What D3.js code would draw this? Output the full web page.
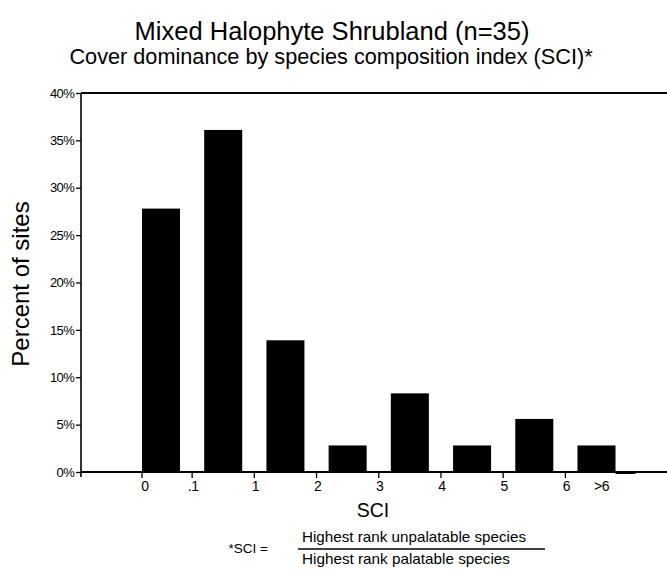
<!DOCTYPE html>
<html>
<head>
<meta charset="utf-8">
<script src="https://cdn.jsdelivr.net/npm/d3@7"></script>
<style>
  html, body { margin: 0; padding: 0; background: #fff; }
  svg { display: block; font-family: "Liberation Sans", Arial, Helvetica, sans-serif; }
</style>
</head>
<body>
<svg id="chart" width="667" height="570"></svg>
<script>
// ---- data ----
const bins = ["0", "0.1–1", "1–2", "2–3", "3–4", "4–5", "5–6", ">6"];
const percents = [27.8, 36.1, 13.9, 2.8, 8.3, 2.8, 5.6, 2.8];
const tickLabels = ["0", ".1", "1", "2", "3", "4", "5", "6", ">6"];
const yTicks = [0, 5, 10, 15, 20, 25, 30, 35, 40];
const titleText = "Mixed Halophyte Shrubland (n=35)";
const subtitleText = "Cover dominance by species composition index (SCI)*";
const yTitle = "Percent of sites";
const xTitle = "SCI";
const numerText = "Highest rank unpalatable species";
const denomText = "Highest rank palatable species";

// ---- layout ----
const svg = d3.select("#chart");
const axisX = 81, baseY = 472, topY = 93, rightX = 667;

const y = d3.scaleLinear().domain([0, 40]).range([baseY, topY]);
const x = d3.scaleBand().domain(bins).range([142, 615.5]).paddingInner(0.389).paddingOuter(0);
const gap = x.step() - x.bandwidth();

// titles
svg.append("text").attr("x", 332).attr("y", 40).attr("text-anchor", "middle")
  .attr("font-size", 25.5).text(titleText);
svg.append("text").attr("x", 331).attr("y", 64).attr("text-anchor", "middle")
  .attr("font-size", 21.7).text(subtitleText);

// bars
svg.append("g").selectAll("rect").data(percents).join("rect")
  .attr("x", (d, i) => x(bins[i]))
  .attr("y", d => y(d))
  .attr("width", x.bandwidth())
  .attr("height", d => baseY - y(d))
  .attr("fill", "#000");

// top frame line
svg.append("line").attr("x1", axisX).attr("x2", rightX).attr("y1", topY).attr("y2", topY)
  .attr("stroke", "#000").attr("stroke-width", 2);

// baseline
svg.append("line").attr("x1", axisX).attr("x2", rightX).attr("y1", baseY).attr("y2", baseY)
  .attr("stroke", "#000").attr("stroke-width", 2);
// small dash artifact after last bar
svg.append("line").attr("x1", x(bins[7]) + x.bandwidth()).attr("x2", x(bins[7]) + x.bandwidth() + 20)
  .attr("y1", baseY + 1).attr("y2", baseY + 1).attr("stroke", "#000").attr("stroke-width", 2);

// y axis
const yAxis = svg.append("g").attr("transform", `translate(${axisX},0)`)
  .call(d3.axisLeft(y).tickValues(yTicks).tickFormat(d => d + "%").tickSize(5).tickPadding(2));
yAxis.select(".domain").remove();
yAxis.selectAll(".tick line").attr("stroke-width", 1.3);
yAxis.selectAll(".tick text").attr("font-size", 13).attr("font-family", "'Liberation Sans', Arial, sans-serif")
  .attr("letter-spacing", -0.7);
svg.append("line").attr("x1", axisX).attr("x2", axisX).attr("y1", topY).attr("y2", baseY + 5)
  .attr("stroke", "#000").attr("stroke-width", 1.6);

// x ticks and labels
const tickPos = tickLabels.map((t, i) => {
  if (i === 0) return { t, px: x(bins[0]), tick: true };
  if (i < bins.length) return { t, px: x(bins[i]) - gap / 2, tick: true };
  return { t, px: x(bins[bins.length - 1]) + x.bandwidth() / 2 + 4, tick: false };
});
const xt = svg.append("g");
xt.selectAll("line").data(tickPos.filter(d => d.tick)).join("line")
  .attr("x1", d => d.px).attr("x2", d => d.px)
  .attr("y1", baseY).attr("y2", baseY + 6)
  .attr("stroke", "#000").attr("stroke-width", 1.3);
xt.selectAll("text").data(tickPos).join("text")
  .attr("x", (d, i) => d.px + (i === 0 ? 3 : 1))
  .attr("y", 491).attr("text-anchor", "middle")
  .attr("font-size", 14).attr("letter-spacing", -0.5).text(d => d.t);

// axis titles
svg.append("text").attr("transform", "translate(29,284) rotate(-90)")
  .attr("text-anchor", "middle").attr("font-size", 24).text(yTitle);
svg.append("text").attr("x", 373).attr("y", 517).attr("text-anchor", "middle")
  .attr("font-size", 19.5).text(xTitle);

// SCI footnote fraction
svg.append("text").attr("x", 268).attr("y", 553).attr("text-anchor", "end")
  .attr("font-size", 13.5).text("*SCI =");
svg.append("text").attr("x", 414).attr("y", 542).attr("text-anchor", "middle")
  .attr("font-size", 14.5).attr("textLength", 224).attr("lengthAdjust", "spacingAndGlyphs").text(numerText);
svg.append("line").attr("x1", 298).attr("x2", 545).attr("y1", 549).attr("y2", 549)
  .attr("stroke", "#000").attr("stroke-width", 1.5);
svg.append("text").attr("x", 406).attr("y", 564).attr("text-anchor", "middle")
  .attr("font-size", 14.5).attr("textLength", 208).attr("lengthAdjust", "spacingAndGlyphs").text(denomText);
</script>
</body>
</html>
